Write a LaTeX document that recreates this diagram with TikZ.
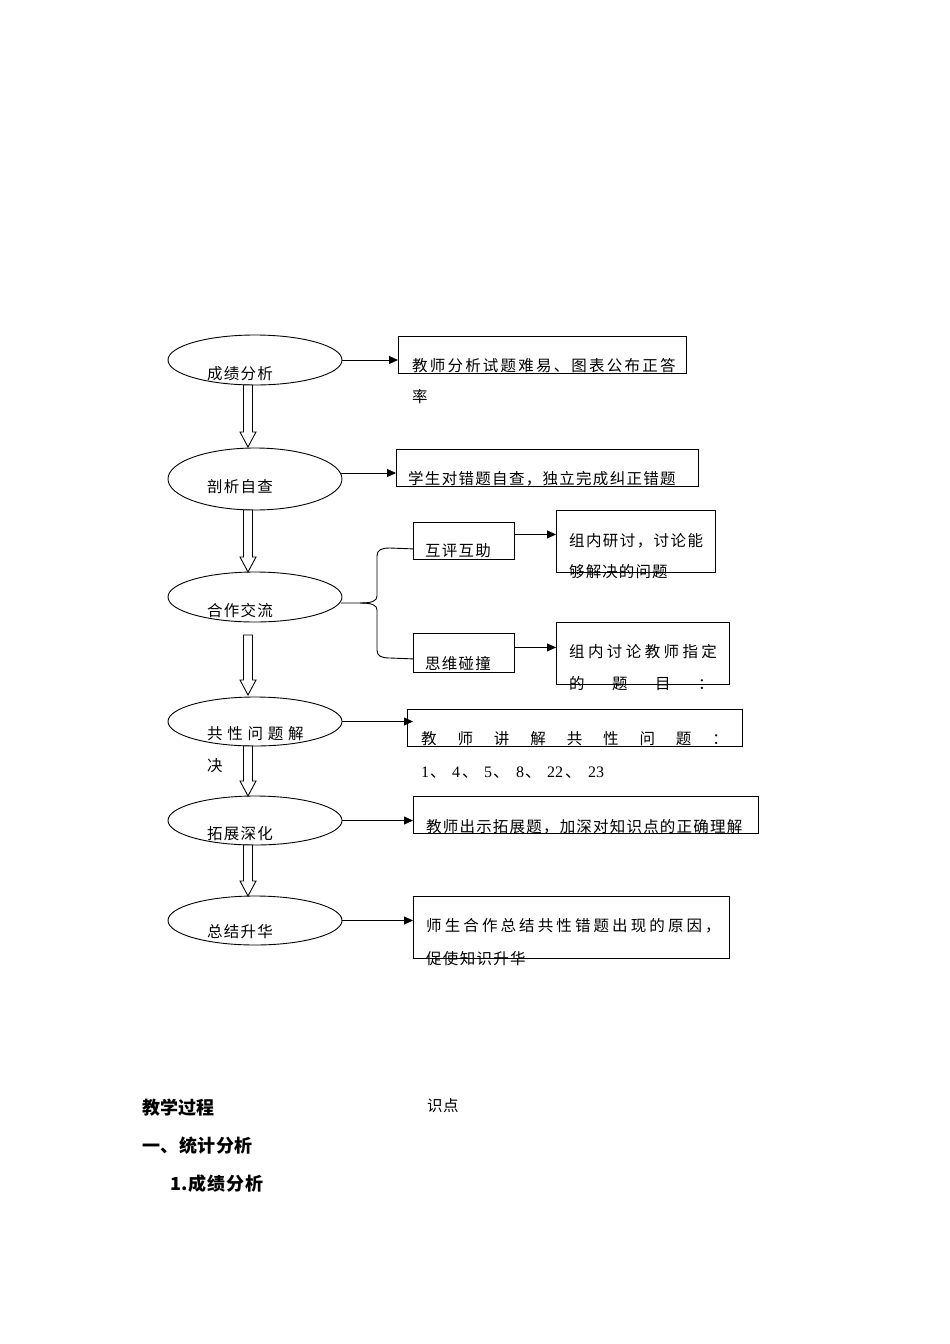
\documentclass[tikz,border=0pt]{standalone}
\usepackage{fontspec}
\setmainfont{Liberation Serif}
\newfontfamily\cjk{Noto Sans CJK SC}
\usetikzlibrary{shapes.geometric,arrows.meta}
\makeatletter
\newcommand\spreadtext[2]{\def\sprw{#1pt}\spr@loop#2\relax}
\def\spr@loop#1{\ifx\relax#1\else\makebox[\sprw][l]{#1}\expandafter\spr@loop\fi}
\makeatother
\newcommand\blockarrow[3]{%
  \draw[hollow] (#1-4.5,#2) -- (#1+4.5,#2) -- (#1+4.5,#3-15) -- (#1+8,#3-15)
    -- (#1,#3) -- (#1-8,#3-15) -- (#1-4.5,#3-15) -- cycle;}
\tikzset{
  oval/.style={ellipse,draw,line width=0.9pt,inner sep=0,minimum width=174pt},
  box/.style={draw,line width=0.9pt,inner sep=0,anchor=north west},
  lbl/.style={anchor=base west,inner sep=0,font=\cjk\fontsize{15.5}{18}\selectfont},
  num/.style={anchor=base west,inner sep=0,font=\fontsize{16}{18}\selectfont},
  head/.style={anchor=base west,inner sep=0,font=\cjk\bfseries\fontsize{18}{20}\selectfont},
  link/.style={line width=0.9pt,-{Triangle[length=9pt,width=8pt]}},
  brace/.style={line width=0.9pt},
  hollow/.style={line width=0.9pt,fill=white},
}
\begin{document}
\begin{tikzpicture}[x=1pt,y=-1pt]
\useasboundingbox[fill=white] (0,0) rectangle (950,1344);

% ellipses
\node[oval,minimum height=50pt] (e1) at (255,360) {};
\node[oval,minimum height=62pt] (e2) at (255,479) {};
\node[oval,minimum height=50pt] (e3) at (255,597) {};
\node[oval,minimum height=49pt] (e4) at (255,721.5) {};
\node[oval,minimum height=49pt] (e5) at (255,820.5) {};
\node[oval,minimum height=49pt] (e6) at (255,920.5) {};

% block arrows
\blockarrow{248}{385}{447}
\blockarrow{248}{510}{572}
\blockarrow{248}{635}{695}
\blockarrow{248}{746}{796}
\blockarrow{248}{845}{896}

% boxes
\node[box,minimum width=288pt,minimum height=37pt] (a) at (398,336) {};
\node[box,minimum width=302pt,minimum height=37pt] (b) at (396,449) {};
\node[box,minimum width=101pt,minimum height=37pt] (c) at (413,522) {};
\node[box,minimum width=101pt,minimum height=39pt] (d) at (413,633) {};
\node[box,minimum width=159pt,minimum height=62pt] (e) at (556,510) {};
\node[box,minimum width=173pt,minimum height=62pt] (f) at (556,622) {};
\node[box,minimum width=335pt,minimum height=37pt] (g) at (407,709) {};
\node[box,minimum width=345pt,minimum height=37pt] (h) at (413,796) {};
\node[box,minimum width=316pt,minimum height=62pt] (i) at (413,896) {};

% connectors
\draw[link] (e1.east) -- (e1.east -| a.west);
\draw[link] (e2.4) -- (e2.4 -| b.west);
\draw[link] (e4.east) -- ([xshift=6pt]e4.east -| g.west);
\draw[link] (e5.east) -- (e5.east -| h.west);
\draw[link] (e6.east) -- (e6.east -| i.west);
\coordinate (ce) at ([yshift=6.5pt]c.east);
\coordinate (df) at ([yshift=5.5pt]d.east);
\draw[link] (ce) -- (ce -| e.west);
\draw[link] (df) -- (df -| f.west);

% brace
\coordinate (bt) at (341,603);
\coordinate (ct) at ([yshift=11pt]c.south west);
\coordinate (dt) at ([yshift=14pt]d.south west);
\draw[brace] (bt) -- (360,603) .. controls (372,603) and (377,601) .. (377,596)
  -- (377,556) .. controls (377,550) and (381,548) .. (390,548) -- (ct);
\draw[brace] (360,603) .. controls (372,603) and (377,605) .. (377,610)
  -- (377,650) .. controls (377,656) and (381,658) .. (390,658) -- (dt);

% ellipse labels
\node[lbl] (t1) at (207,379) {\spreadtext{16.7}{成绩分析}};
\node[lbl] (t2) at (207,492) {\spreadtext{16.7}{剖析自查}};
\node[lbl] (t3) at (207,616) {\spreadtext{16.7}{合作交流}};
\node[lbl] (t4) at (207,739) {\spreadtext{20.25}{共性问题解}};
\node[lbl] (t4b) at (207,771) {决};
\node[lbl] (t5) at (207,839) {\spreadtext{16.7}{拓展深化}};
\node[lbl] (t6) at (207,937) {\spreadtext{16.7}{总结升华}};

% box labels
\node[lbl] (ta) at (412,371) {\spreadtext{17.7}{教师分析试题难易、图表公布正答}};
\node[lbl] (ta2) at (412,402) {率};
\node[lbl] (tb) at (408,484) {\spreadtext{16.8}{学生对错题自查，独立完成纠正错题}};
\node[lbl] (tc) at (425,556) {\spreadtext{16.7}{互评互助}};
\node[lbl] (td) at (425,669) {\spreadtext{16.7}{思维碰撞}};
\node[lbl] (te) at (569,546) {\spreadtext{16.9}{组内研讨，讨论能}};
\node[lbl] (te2) at (569,577) {\spreadtext{16.6}{够解决的问题}};
\node[lbl] (tf) at (569,657) {\spreadtext{18.9}{组内讨论教师指定}};
\node[lbl] (tf2) at (569,689) {\spreadtext{43}{的题目：}};
\node[lbl] (tg) at (421,744) {\spreadtext{36.4}{教师讲解共性问题：}};
\node[num] (tg2) at (421,777) {\makebox[9pt][l]{1}\makebox[22pt][l]{\cjk 、}\makebox[10pt][l]{4}\makebox[22pt][l]{\cjk 、}\makebox[9pt][l]{5}\makebox[23pt][l]{\cjk 、}\makebox[9pt][l]{8}\makebox[22pt][l]{\cjk 、}\makebox[18pt][l]{22}\makebox[23pt][l]{\cjk 、}23};
\node[lbl] (th) at (426,832) {\spreadtext{16.7}{教师出示拓展题，加深对知识点的正确理解}};
\node[lbl] (ti) at (426,931) {\spreadtext{18.6}{师生合作总结共性错题出现的原因，}};
\node[lbl] (ti2) at (426,964) {\spreadtext{16.8}{促使知识升华}};

% bottom text
\node[head] (h1) at (142,1114) {教学过程};
\node[head] (h2) at (142,1152) {\spreadtext{18.5}{一、统计分析}};
\node[head] (h3) at (170,1190) {1.};
\node[head] (h4) at (188,1190) {\spreadtext{19}{成绩分析}};
\node[lbl] (h5) at (427,1111) {\spreadtext{16}{识点}};
\end{tikzpicture}
\end{document}
